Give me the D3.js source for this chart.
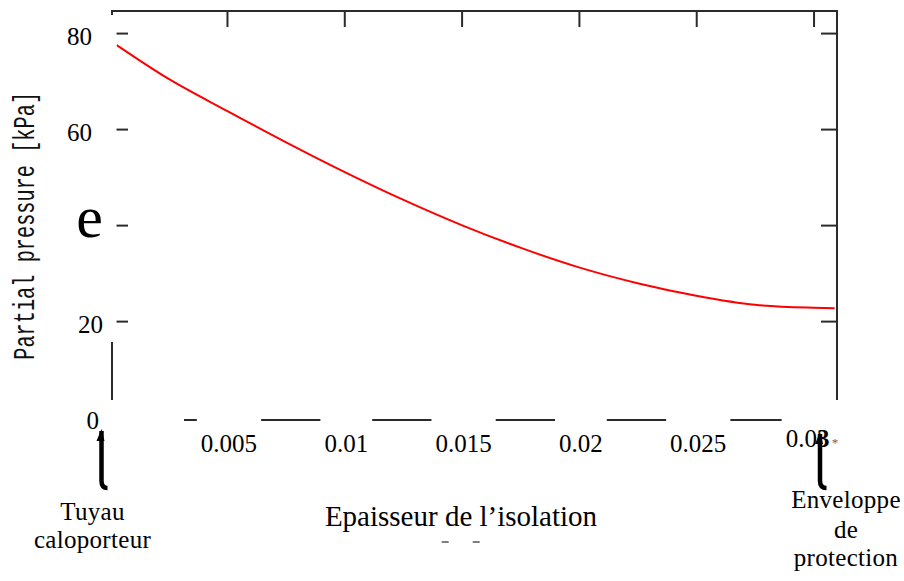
<!DOCTYPE html>
<html>
<head>
<meta charset="utf-8">
<script src="https://cdn.jsdelivr.net/npm/d3@7"></script>
<style>
body { margin: 0; background: #fff; }
svg { display: block; }
.serif { font-family: "Liberation Serif", "Times New Roman", serif; fill: #000; }
</style>
</head>
<body>
<div id="chart"></div>
<script>

// values (thickness in m, partial pressure in kPa)
var thickness = [0.0003, 0.0025, 0.005, 0.0075, 0.01, 0.0125, 0.015, 0.0175, 0.02, 0.0225, 0.025, 0.0275, 0.03, 0.0309];
var pressure  = [77.5, 70.5, 63.8, 57.3, 51.1, 45.3, 40.0, 35.3, 31.2, 27.9, 25.3, 23.4, 22.8, 22.7];

var x_ticks = [0.005, 0.01, 0.015, 0.02, 0.025, 0.03];
var x_tick_labels = ["0.005", "0.01", "0.015", "0.02", "0.025", "0.03"];
var y_ticks = [20, 40, 60, 80];
var y_label_values = [0, 20, 40, 60, 80];
var y_tick_labels = ["0", "20", "e", "60", "80"];

var y_title = "Partial pressure [kPa]";
var x_title = "Epaisseur de l\u2019isolation";
var left_note = ["Tuyau", "caloporteur"];
var right_note = ["Enveloppe", "de", "protection"];

function drawPressureChart(){

    var width = 904, height = 581;
    var frame = { left: 112, right: 837, top: 11, bottom: 420 },
        tickLen = 16,
        frameColor = "#2b2b2b";

    var x = d3.scaleLinear().domain([0.0001, 0.031]).range([frame.left, frame.right]);
    var y = d3.scaleLinear().domain([-0.6, 84.6]).range([frame.bottom, frame.top]);

    var svg = d3.select("#chart").append("svg")
        .attr("width", width)
        .attr("height", height);

    svg.append("rect")
        .attr("width", width).attr("height", height)
        .attr("fill", "#fff");

    // plot frame
    svg.append("rect")
        .attr("x", frame.left).attr("y", frame.top)
        .attr("width", frame.right - frame.left)
        .attr("height", frame.bottom - frame.top)
        .attr("fill", "none")
        .attr("stroke", frameColor)
        .attr("stroke-width", 2);

    // inward ticks on all four sides
    var axes = [
        { a: d3.axisTop(x).tickValues(x_ticks), t: "translate(0," + frame.top + ")" },
        { a: d3.axisBottom(x).tickValues(x_ticks), t: "translate(0," + frame.bottom + ")" },
        { a: d3.axisLeft(y).tickValues(y_ticks), t: "translate(" + frame.left + ",0)" },
        { a: d3.axisRight(y).tickValues(y_ticks), t: "translate(" + frame.right + ",0)" }
    ];
    axes.forEach(function(ax){
        var g = svg.append("g")
            .attr("transform", ax.t)
            .call(ax.a.tickSize(-tickLen).tickFormat(""));
        g.select(".domain").remove();
        g.selectAll("line").attr("stroke", frameColor).attr("stroke-width", 2);
    });

    // pressure curve
    var points = thickness.map(function(d, i){ return [d, pressure[i]]; });
    var line = d3.line()
        .x(function(d){ return x(d[0]); })
        .y(function(d){ return y(d[1]); })
        .curve(d3.curveMonotoneX);

    svg.append("path")
        .datum(points)
        .attr("d", line)
        .attr("fill", "none")
        .attr("stroke", "#ff0000")
        .attr("stroke-width", 2);

    // white label boxes pasted over the frame
    svg.append("rect")
        .attr("x", 0).attr("y", 15)
        .attr("width", 116.5).attr("height", 327)
        .attr("fill", "#fff");

    var boxTop = 400, boxBottom = 462;
    svg.append("rect")
        .attr("x", 60).attr("y", boxTop)
        .attr("width", 184 - 60).attr("height", boxBottom - boxTop)
        .attr("fill", "#fff");

    var xLabels = svg.append("g").attr("class", "serif")
        .style("font-size", "25px")
        .attr("text-anchor", "middle");

    xLabels.selectAll("text")
        .data(x_ticks)
        .enter().append("text")
        .attr("x", function(d, i){ return x(d) + (i === x_ticks.length - 1 ? -6 : 2); })
        .attr("y", function(d, i){ return i === x_ticks.length - 1 ? 447 : 452; })
        .each(function(d, i){
            var label = x_tick_labels[i];
            var t = d3.select(this);
            if (i === x_ticks.length - 1) {
                t.append("tspan").text(label.slice(0, -1));
                t.append("tspan").attr("font-weight", "bold").text(label.slice(-1));
            } else {
                t.text(label);
            }
        });

    // boxes behind the x tick labels
    xLabels.selectAll("text").each(function(d, i){
        var bb = this.getBBox();
        var last = i === x_ticks.length - 1;
        svg.insert("rect", "g.serif")
            .attr("x", bb.x - 4)
            .attr("y", boxTop)
            .attr("width", last ? width - bb.x : bb.width + 8)
            .attr("height", boxBottom - boxTop)
            .attr("fill", "#fff");
    });

    // y tick labels
    var yLabelRight = { "0": 99, "20": 103, "e": 103, "60": 92, "80": 92 };
    svg.append("g").attr("class", "serif")
        .attr("text-anchor", "end")
        .selectAll("text")
        .data(y_label_values)
        .enter().append("text")
        .attr("x", function(d, i){ return yLabelRight[y_tick_labels[i]]; })
        .attr("y", function(d){ return y(d) + 12; })
        .style("font-size", function(d, i){ return y_tick_labels[i] === "e" ? "60px" : "25px"; })
        .text(function(d, i){ return y_tick_labels[i]; });

    // y title
    svg.append("text")
        .attr("transform", "translate(33.5," + ((91.7 + 360) / 2) + ") rotate(-90) scale(1,1.45)")
        .attr("text-anchor", "middle")
        .style("font-family", "'Liberation Mono', 'Courier New', monospace")
        .style("font-size", "20.3px")
        .attr("fill", "#111")
        .text(y_title);

    // x title
    svg.append("text")
        .attr("class", "serif")
        .attr("x", 461).attr("y", 526)
        .attr("text-anchor", "middle")
        .style("font-size", "29px")
        .text(x_title);

    svg.selectAll(".dash")
        .data([441.7, 472.7])
        .enter().append("line")
        .attr("x1", function(d){ return d; })
        .attr("x2", function(d){ return d + 7; })
        .attr("y1", 542).attr("y2", 542)
        .attr("stroke", "#555")
        .attr("stroke-width", 1.5);

    // end notes
    var leftBase = [520, 548], rightBase = [508, 537.5, 566];
    svg.append("g").attr("class", "serif")
        .attr("text-anchor", "middle").style("font-size", "25px")
        .selectAll("text").data(left_note).enter().append("text")
        .attr("x", 92.5)
        .attr("y", function(d, i){ return leftBase[i]; })
        .style("letter-spacing", "0.3px")
        .text(function(d){ return d; });

    svg.append("g").attr("class", "serif")
        .attr("text-anchor", "middle").style("font-size", "25px")
        .selectAll("text").data(right_note).enter().append("text")
        .attr("x", 846)
        .attr("y", function(d, i){ return rightBase[i]; })
        .style("letter-spacing", "0.3px")
        .text(function(d){ return d; });

    // pointer marks from the notes up to the axis ends
    var pointers = [
        { sx: 101.5, top: 431, hook: 107.5 },
        { sx: 820, top: 434, hook: 826.5 }
    ];
    pointers.forEach(function(p){
        svg.append("path")
            .attr("d", "M" + p.sx + "," + p.top + " L" + p.sx + ",481 Q" + p.sx + ",488 " + p.hook + ",488")
            .attr("fill", "none")
            .attr("stroke", "#000")
            .attr("stroke-width", 4.5);
        svg.append("path")
            .attr("d", "M" + (p.sx - 5) + "," + (p.top + 10) + " L" + p.sx + "," + (p.top - 2) + " L" + (p.sx + 3) + "," + (p.top + 10) + " Z")
            .attr("fill", "#000");
    });

    svg.append("text")
        .attr("x", 835).attr("y", 447)
        .attr("text-anchor", "middle")
        .style("font-family", "'Liberation Serif', serif")
        .style("font-size", "13px")
        .attr("fill", "#666")
        .text("*");
}

drawPressureChart();

</script>
</body>
</html>
